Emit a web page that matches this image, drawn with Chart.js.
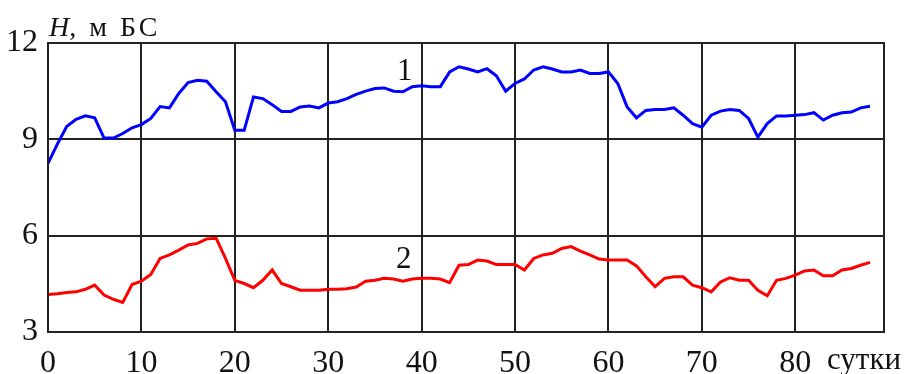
<!DOCTYPE html>
<html>
<head>
<meta charset="utf-8">
<script src="https://cdn.jsdelivr.net/npm/chart.js@4"></script>
<style>
  html, body { margin: 0; padding: 0; background: #fff; }
  #wrap { width: 910px; height: 374px; }
</style>
</head>
<body>
<div id="wrap"><canvas id="chart" width="910" height="374"></canvas></div>
<script>
// days of observation
const days = [0, 1, 2, 3, 4, 5, 6, 7, 8, 9, 10, 11, 12, 13, 14, 15, 16, 17, 18, 19,
  20, 21, 22, 23, 24, 25, 26, 27, 28, 29, 30, 31, 32, 33, 34, 35, 36, 37, 38, 39,
  40, 41, 42, 43, 44, 45, 46, 47, 48, 49, 50, 51, 52, 53, 54, 55, 56, 57, 58, 59,
  60, 61, 62, 63, 64, 65, 66, 67, 68, 69, 70, 71, 72, 73, 74, 75, 76, 77, 78, 79,
  80, 81, 82, 83, 84, 85, 86, 87, 88];

// curve 1 (blue), H in m BS
const level1 = [8.25, 8.85, 9.4, 9.62, 9.73, 9.67, 9.04, 9.04, 9.18, 9.36,
  9.46, 9.65, 10.02, 9.98, 10.43, 10.77, 10.84, 10.81, 10.48, 10.17,
  9.28, 9.28, 10.32, 10.27, 10.08, 9.87, 9.87, 10.01, 10.04, 9.98,
  10.13, 10.17, 10.27, 10.4, 10.5, 10.58, 10.6, 10.5, 10.48, 10.64,
  10.67, 10.64, 10.64, 11.1, 11.26, 11.19, 11.1, 11.2, 10.98, 10.5,
  10.74, 10.88, 11.16, 11.26, 11.19, 11.1, 11.1, 11.16, 11.05, 11.05,
  11.1, 10.74, 10.01, 9.67, 9.9, 9.93, 9.93, 9.98, 9.75, 9.49,
  9.38, 9.75, 9.88, 9.93, 9.9, 9.65, 9.07, 9.49, 9.73, 9.73,
  9.75, 9.77, 9.83, 9.6, 9.75, 9.83, 9.85, 9.98, 10.03];

// curve 2 (red)
const level2 = [4.17, 4.19, 4.23, 4.25, 4.33, 4.46, 4.15, 4.02, 3.92, 4.48,
  4.58, 4.79, 5.29, 5.4, 5.55, 5.71, 5.76, 5.9, 5.92, 5.29,
  4.61, 4.51, 4.38, 4.61, 4.93, 4.51, 4.41, 4.3, 4.3, 4.3,
  4.33, 4.33, 4.35, 4.4, 4.58, 4.61, 4.67, 4.65, 4.58, 4.65,
  4.67, 4.67, 4.65, 4.54, 5.08, 5.1, 5.24, 5.21, 5.1, 5.1,
  5.1, 4.93, 5.29, 5.4, 5.45, 5.6, 5.66, 5.52, 5.4, 5.27,
  5.24, 5.24, 5.24, 5.06, 4.72, 4.41, 4.67, 4.72, 4.72, 4.46,
  4.38, 4.25, 4.56, 4.69, 4.61, 4.61, 4.3, 4.13, 4.61, 4.67,
  4.77, 4.9, 4.93, 4.75, 4.75, 4.93, 4.98, 5.08, 5.17];

const xTicks = [0, 10, 20, 30, 40, 50, 60, 70, 80];
const yTicks = [3, 6, 9, 12];

const serif = '"Liberation Serif", "Times New Roman", serif';

// frame + captions drawn on top of the plot
const extras = {
  id: 'extras',
  afterDraw(chart) {
    const ctx = chart.ctx;
    const a = chart.chartArea;
    ctx.save();
    ctx.strokeStyle = '#222';
    ctx.lineWidth = 2;
    ctx.strokeRect(a.left, a.top, a.right - a.left, a.bottom - a.top);

    ctx.fillStyle = '#111';
    ctx.textBaseline = 'alphabetic';
    ctx.textAlign = 'left';

    // axis title
    ctx.font = 'italic 28px ' + serif;
    ctx.fillText('H', 49, 36);
    const w = ctx.measureText('H').width;
    ctx.font = '28px ' + serif;
    ctx.letterSpacing = '3px';
    ctx.fillText(', м БС', 49 + w, 36);
    ctx.letterSpacing = '0px';

    ctx.font = '31px ' + serif;
    ctx.fillText('1', 397, 80);
    ctx.fillText('2', 396, 268);

    ctx.font = '31px ' + serif;
    ctx.fillText('сутки', 827, 369);
    ctx.restore();
  }
};

new Chart(document.getElementById('chart').getContext('2d'), {
  type: 'line',
  data: {
    datasets: [
      {
        label: '1',
        data: days.map((d, i) => ({ x: d, y: level1[i] })),
        borderColor: '#0000ff',
        borderWidth: 3,
        pointRadius: 0,
        tension: 0
      },
      {
        label: '2',
        data: days.map((d, i) => ({ x: d, y: level2[i] })),
        borderColor: '#ff0000',
        borderWidth: 3,
        pointRadius: 0,
        tension: 0
      }
    ]
  },
  options: {
    responsive: false,
    animation: false,
    layout: { padding: { top: 43, right: 26, left: 0, bottom: 0 } },
    plugins: {
      legend: { display: false },
      tooltip: { enabled: false }
    },
    scales: {
      x: {
        type: 'linear',
        min: 0,
        max: 89.5,
        afterFit: s => { s.height = 42; },
        afterBuildTicks: s => { s.ticks = xTicks.map(v => ({ value: v })); },
        grid: { color: '#222', lineWidth: 2, drawTicks: false },
        border: { color: '#222', width: 2 },
        ticks: {
          color: '#111',
          padding: 12,
          maxRotation: 0,
          font: { family: serif, size: 32 }
        }
      },
      y: {
        min: 3,
        max: 12,
        afterFit: s => { s.width = 48; },
        afterBuildTicks: s => { s.ticks = yTicks.map(v => ({ value: v })); },
        grid: { color: '#222', lineWidth: 2, drawTicks: false },
        border: { color: '#222', width: 2 },
        ticks: {
          color: '#111',
          padding: 10,
          font: { family: serif, size: 32 }
        }
      }
    }
  },
  plugins: [extras]
});
</script>
</body>
</html>
